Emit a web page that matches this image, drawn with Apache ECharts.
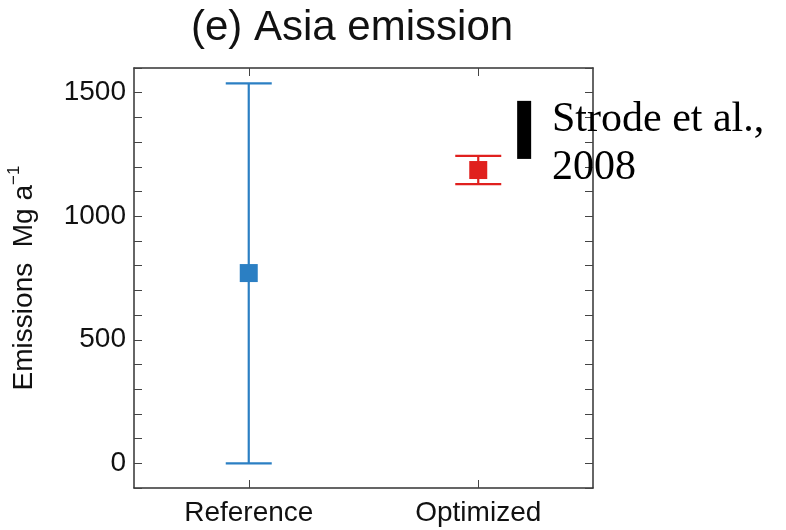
<!DOCTYPE html>
<html>
<head>
<meta charset="utf-8">
<script src="https://cdn.jsdelivr.net/npm/echarts@6/dist/echarts.min.js"></script>
<style>
  html, body { margin: 0; padding: 0; background: #fff; }
  #chart { width: 786px; height: 530px; }
</style>
</head>
<body>
<div id="chart"></div>
<script>
// data
var categories = ['Reference', 'Optimized'];
var xPos = [1, 2];
var means = [770, 1187];
var lows = [0, 1130];
var highs = [1538, 1244];
var strodeX = 2.2;
var strodeRange = [1232, 1467];
var yLabels = [0, 500, 1000, 1500];

var colors = ['#2b7fc3', '#e0201e'];
var font = 'Liberation Sans, Arial, sans-serif';

var barData = [];
var dotData = [];
for (var i = 0; i < xPos.length; i++) {
  barData.push({ value: [xPos[i], lows[i], highs[i]], itemStyle: { color: colors[i] } });
  dotData.push({ value: [xPos[i], means[i]], itemStyle: { color: colors[i], opacity: 1 } });
}

var chart = echarts.init(document.getElementById('chart'));

var option = {
  animation: false,
  title: {
    text: '(e) Asia emission',
    left: 186,
    top: 2,
    textStyle: { fontFamily: font, fontSize: 42, fontWeight: 'normal', color: '#111' }
  },
  grid: { left: 134, right: 193, top: 68, bottom: 42, outerBoundsMode: 'none' },
  xAxis: [
    {
      type: 'value', min: 0.5, max: 2.5, position: 'bottom',
      splitLine: { show: false },
      axisLine: { onZero: false, lineStyle: { color: '#333', width: 1.5 } },
      axisTick: { inside: true, length: 8, customValues: xPos, lineStyle: { color: '#444' } },
      axisLabel: {
        customValues: xPos, margin: 11,
        fontFamily: font, fontSize: 28, color: '#111',
        formatter: function (v) { return categories[xPos.indexOf(v)] || ''; }
      }
    },
    {
      type: 'value', min: 0.5, max: 2.5, position: 'top',
      splitLine: { show: false },
      axisLine: { onZero: false, lineStyle: { color: '#333', width: 1.5 } },
      axisTick: { inside: true, length: 8, customValues: xPos, lineStyle: { color: '#444' } },
      axisLabel: { show: false }
    }
  ],
  yAxis: [
    {
      type: 'value', min: -100, max: 1600, interval: 100, position: 'left',
      name: '{a|Emissions  Mg a}{s|−1}',
      nameLocation: 'middle', nameGap: 92,
      nameTextStyle: {
        rich: {
          a: { fontFamily: font, fontSize: 28, color: '#111', lineHeight: 36 },
          s: { fontFamily: font, fontSize: 17, color: '#111', verticalAlign: 'top', lineHeight: 36 }
        }
      },
      splitLine: { show: false },
      axisLine: { show: true, onZero: false, lineStyle: { color: '#333', width: 1.5 } },
      axisTick: { show: true, inside: true, length: 8, lineStyle: { color: '#444' } },
      axisLabel: {
        margin: 8, fontFamily: font, fontSize: 28, color: '#111',
        formatter: function (v) { return yLabels.indexOf(v) >= 0 ? String(v) : ''; }
      }
    },
    {
      type: 'value', min: -100, max: 1600, interval: 100, position: 'right',
      splitLine: { show: false },
      axisLine: { show: true, onZero: false, lineStyle: { color: '#333', width: 1.5 } },
      axisTick: { show: true, inside: true, length: 8, lineStyle: { color: '#444' } },
      axisLabel: { show: false }
    }
  ],
  graphic: [
    {
      type: 'text', left: 552, top: 96, z: 10,
      style: {
        text: 'Strode et al.,\n2008',
        fontFamily: 'Liberation Serif, Times New Roman, serif',
        fontSize: 42, lineHeight: 48, fill: '#000'
      }
    }
  ],
  series: [
    {
      type: 'custom',
      xAxisIndex: 0, yAxisIndex: 0,
      data: barData,
      renderItem: function (params, api) {
        var x = api.value(0);
        var pLo = api.coord([x, api.value(1)]);
        var pHi = api.coord([x, api.value(2)]);
        var c = api.visual('color');
        var w = 23;
        var st = { stroke: c, lineWidth: 2.2 };
        return {
          type: 'group',
          children: [
            { type: 'line', shape: { x1: pLo[0], y1: pLo[1], x2: pHi[0], y2: pHi[1] }, style: st },
            { type: 'line', shape: { x1: pHi[0] - w, y1: pHi[1], x2: pHi[0] + w, y2: pHi[1] }, style: st },
            { type: 'line', shape: { x1: pLo[0] - w, y1: pLo[1], x2: pLo[0] + w, y2: pLo[1] }, style: st }
          ]
        };
      },
      z: 2
    },
    {
      type: 'scatter',
      xAxisIndex: 0, yAxisIndex: 0,
      symbol: 'rect', symbolSize: 18,
      data: dotData,
      z: 3
    },
    {
      type: 'custom',
      xAxisIndex: 0, yAxisIndex: 0,
      data: [[strodeX, strodeRange[0], strodeRange[1]]],
      renderItem: function (params, api) {
        var x = api.value(0);
        var pLo = api.coord([x, api.value(1)]);
        var pHi = api.coord([x, api.value(2)]);
        return {
          type: 'rect',
          shape: { x: pLo[0] - 7, y: pHi[1], width: 14, height: pLo[1] - pHi[1] },
          style: { fill: '#000' }
        };
      },
      z: 4
    }
  ]
};

chart.setOption(option);
</script>
</body>
</html>
